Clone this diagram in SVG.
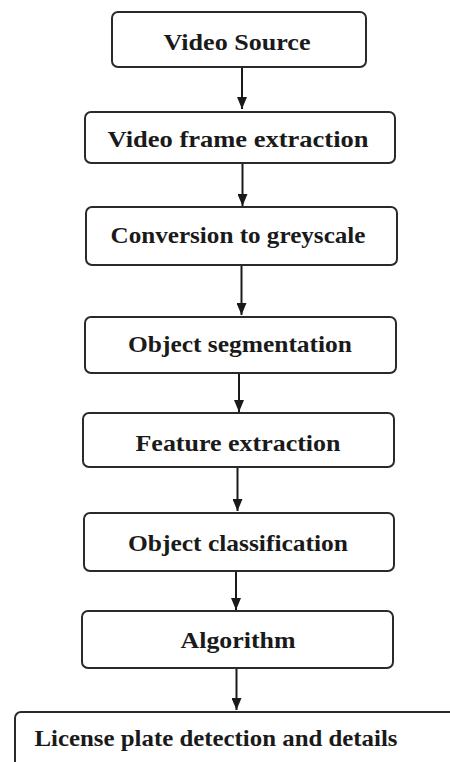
<svg xmlns="http://www.w3.org/2000/svg" width="450" height="762" viewBox="0 0 450 762">
<style>
.box{fill:#fff;stroke:#2a2a2a;stroke-width:2}
.lbl{font-family:"Liberation Serif","DejaVu Serif",serif;font-weight:bold;font-size:24px;fill:#1a1a1a;text-anchor:middle}
.conn line{stroke:#1a1a1a;stroke-width:2}
</style>
<defs>
<marker id="ah" viewBox="0 0 12 10" refX="12" refY="5" markerWidth="12" markerHeight="10" markerUnits="userSpaceOnUse" orient="auto">
<path d="M0,0 L12,5 L0,10 Z" fill="#1a1a1a"/>
</marker>
</defs>
<rect width="450" height="762" fill="#fff"/>
<g class="conn">
<line x1="242" y1="67" x2="242" y2="109" marker-end="url(#ah)"/>
<line x1="242.5" y1="163" x2="242.5" y2="206" marker-end="url(#ah)"/>
<line x1="241.5" y1="265" x2="241.5" y2="315" marker-end="url(#ah)"/>
<line x1="239" y1="373" x2="239" y2="412" marker-end="url(#ah)"/>
<line x1="237.5" y1="467" x2="237.5" y2="511" marker-end="url(#ah)"/>
<line x1="236" y1="571" x2="236" y2="610" marker-end="url(#ah)"/>
<line x1="236.5" y1="668" x2="236.5" y2="710" marker-end="url(#ah)"/>
</g>
<g id="n1"><rect class="box" x="112" y="12" width="254" height="55" rx="6"/><text class="lbl" x="237" y="50" textLength="147" lengthAdjust="spacingAndGlyphs">Video Source</text></g>
<g id="n2"><rect class="box" x="85" y="112" width="310" height="51" rx="6"/><text class="lbl" x="238" y="147" textLength="261" lengthAdjust="spacingAndGlyphs">Video frame extraction</text></g>
<g id="n3"><rect class="box" x="86" y="207" width="311" height="58" rx="6"/><text class="lbl" x="238" y="243" textLength="255" lengthAdjust="spacingAndGlyphs">Conversion to greyscale</text></g>
<g id="n4"><rect class="box" x="85" y="317" width="311" height="56" rx="6"/><text class="lbl" x="240" y="352" textLength="224" lengthAdjust="spacingAndGlyphs">Object segmentation</text></g>
<g id="n5"><rect class="box" x="83" y="413" width="311" height="54" rx="6"/><text class="lbl" x="238" y="451" textLength="205" lengthAdjust="spacingAndGlyphs">Feature extraction</text></g>
<g id="n6"><rect class="box" x="84" y="513" width="310" height="58" rx="6"/><text class="lbl" x="238" y="551" textLength="220" lengthAdjust="spacingAndGlyphs">Object classification</text></g>
<g id="n7"><rect class="box" x="82" y="611" width="311" height="57" rx="6"/><text class="lbl" x="238" y="648" textLength="115" lengthAdjust="spacingAndGlyphs">Algorithm</text></g>
<g id="n8"><rect class="box" x="15" y="712" width="450" height="60" rx="6"/><text class="lbl" x="216" y="746" textLength="363" lengthAdjust="spacingAndGlyphs">License plate detection and details</text></g>
</svg>
